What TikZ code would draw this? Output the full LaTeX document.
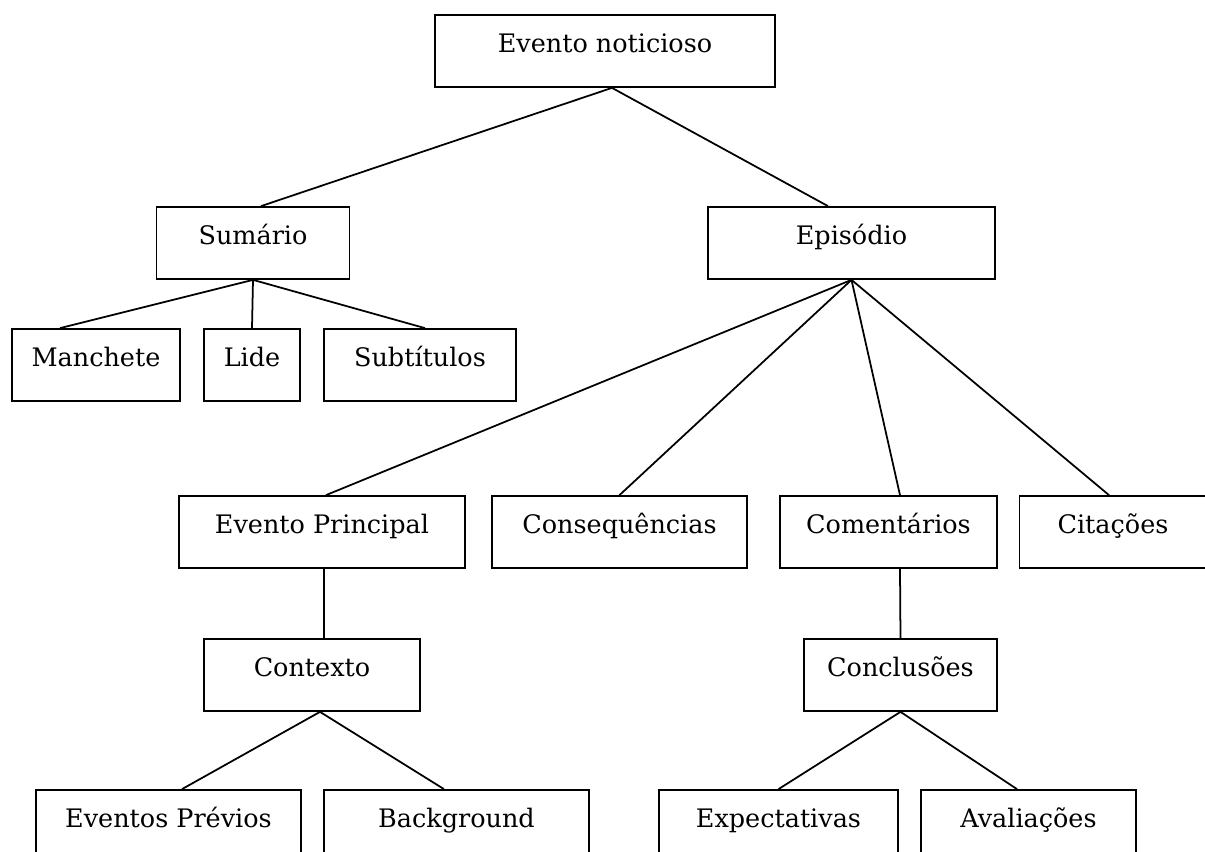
\documentclass[tikz,border=0pt]{standalone}
\usepackage{fontspec}
\setmainfont{DejaVu Serif}
\usepackage{tikz}
\usetikzlibrary{positioning}
\tikzset{
  caixa/.style={draw, rectangle, line width=1pt, inner xsep=0pt, inner ysep=0pt,
    text height=0.74cm, text depth=0.70cm, font=\fontsize{14.5}{17}\selectfont},
  ramo/.style={line width=1pt},
}

\begin{document}
\begin{tikzpicture}[x=0.02cm,y=-0.02cm]
  \clip (0,0) rectangle (1205,852);
  % raiz e primeiro nivel
  \node[caixa, minimum width=6.8cm] (noticia) at (605,51) {Evento noticioso};
  \node[caixa, minimum width=3.86cm] (sumario) at (253,243) {Sumário};
  \node[caixa, minimum width=5.74cm] (episodio) at (851.5,243) {Episódio};
  % sumario
  \node[caixa, minimum width=3.36cm] (manchete) at (96,365) {Manchete};
  \node[caixa, minimum width=1.92cm] (lide) at (252,365) {Lide};
  \node[caixa, minimum width=3.84cm] (subtitulos) at (420,365) {Subtítulos};
  % episodio
  \node[caixa, minimum width=5.72cm] (principal) at (322,532) {Evento Principal};
  \node[caixa, minimum width=5.1cm] (consequencias) at (619.5,532) {Consequências};
  \node[caixa, minimum width=4.34cm] (comentarios) at (888.5,532) {Comentários};
  \node[caixa, minimum width=3.74cm] (citacoes) at (1113,532) {Citações};
  \node[caixa, minimum width=4.32cm] (contexto) at (312,675) {Contexto};
  \node[caixa, minimum width=3.86cm] (conclusoes) at (900.5,675) {Conclusões};
  \node[caixa, minimum width=5.3cm] (previos) at (168.5,826) {Eventos Prévios};
  \node[caixa, minimum width=5.3cm] (background) at (456.5,826) {Background};
  \node[caixa, minimum width=4.78cm] (expectativas) at (778.5,826) {Expectativas};
  \node[caixa, minimum width=4.3cm] (avaliacoes) at (1028.5,826) {Avaliações};

  \draw[ramo] ([xshift=0.16cm]sumario.north) -- ([xshift=0.14cm]noticia.south) -- ([xshift=-0.47cm]episodio.north);
  \draw[ramo] (sumario.south) -- ([xshift=-0.72cm]manchete.north);
  \draw[ramo] (sumario.south) -- (lide.north);
  \draw[ramo] (sumario.south) -- ([xshift=0.1cm]subtitulos.north);
  \draw[ramo] (episodio.south) -- ([xshift=0.08cm]principal.north);
  \draw[ramo] (episodio.south) -- (consequencias.north);
  \draw[ramo] (episodio.south) -- ([xshift=0.23cm]comentarios.north);
  \draw[ramo] (episodio.south) -- ([xshift=-0.08cm]citacoes.north);
  \draw[ramo] ([xshift=0.04cm]principal.south) -- ([xshift=0.24cm]contexto.north);
  \draw[ramo] ([xshift=0.23cm]comentarios.south) -- (conclusoes.north);
  \draw[ramo] ([xshift=0.27cm]previos.north) -- ([xshift=0.16cm]contexto.south) -- ([xshift=-0.25cm]background.north);
  \draw[ramo] (expectativas.north) -- (conclusoes.south) -- ([xshift=-0.23cm]avaliacoes.north);
\end{tikzpicture}
\end{document}
